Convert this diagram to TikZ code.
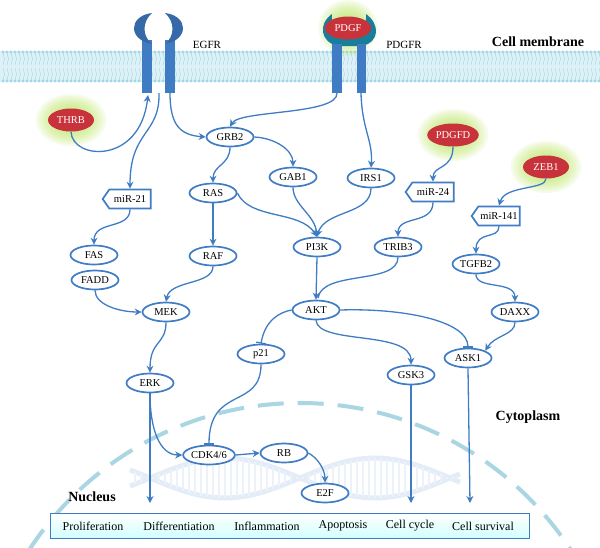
\documentclass[tikz,border=0pt]{standalone}
\usepackage{fontspec}
\setmainfont{Liberation Serif}
\usetikzlibrary{shapes.geometric,shapes.symbols,arrows.meta}
\definecolor{lb}{HTML}{3F7CC4}
\definecolor{mem}{HTML}{9FD8E6}
\definecolor{nuc}{HTML}{A9D6E2}
\definecolor{rd}{HTML}{C8323A}
\definecolor{gl}{HTML}{B6E35A}
\newcommand{\glowat}[3]{\foreach \k in {1,...,8}{\fill[gl,opacity=0.12] #1 ellipse ({#2*(1-0.07*\k)} and {#3*(1-0.07*\k)});}}
\begin{document}
\begin{tikzpicture}[x=1pt,y=-1pt,
 g/.style={ellipse,draw=lb,line width=1.7pt,fill=white,minimum width=47,minimum height=19,inner sep=0.5pt,font=\fontsize{10.5}{12}\selectfont},
 mir/.style={signal,signal to=west,signal pointer angle=110,draw=lb,line width=1.7pt,fill=white,minimum width=48,minimum height=19,inner sep=1.5pt,font=\fontsize{10.5}{12}\selectfont},
 red/.style={ellipse,fill=rd,text=white,minimum width=46,minimum height=23,inner sep=1pt,font=\fontsize{10.5}{12}\selectfont},
 e/.style={lb,line width=1.3pt,-{Stealth[length=7pt,width=7pt]}},
 inh/.style={lb,line width=1.3pt,-{Bar[width=10pt]}},
 lab/.style={font=\fontsize{14}{16}\selectfont\bfseries}]
\useasboundingbox (0,0) rectangle (600,547);
% membrane
\fill[mem!35] (0,51) rectangle (600,82);
\foreach \x in {3,7,...,599}{
 \draw[mem,line width=0.4pt] (\x,53)--(\x+1.5,59)--(\x,65) (\x,68)--(\x+1.5,74)--(\x,80);
 \fill[mem] (\x,52) circle (1.6) (\x,81) circle (1.6);}
% nucleus
\begin{scope}
\clip (0,380) rectangle (600,547);
\draw[nuc,line width=4pt,dash pattern=on 26pt off 14pt] (300,726) circle (323);
\end{scope}
% DNA faint
\foreach \p in {0,180}{
 \draw[lb!14,line width=5pt,domain=130:460,samples=60] plot (\x,{478+20*sin(1.2*\x+\p)});}
\foreach \x in {135,141,...,455}{\draw[lb!10,line width=1.5pt] (\x,{478+20*sin(1.2*\x)})--(\x,{478+20*sin(1.2*\x+180)});}
% receptors
\tikzset{rec/.style={fill=lb}}
\fill[rec] (142,40) rectangle (152,93);
\fill[rec] (165,40) rectangle (175,93);
\fill[lb!85!black] (152,13) .. controls (128,16) and (128,40) .. (152,44) .. controls (142,36) and (142,22) .. (152,13);
\fill[lb!85!black] (165,13) .. controls (189,16) and (189,40) .. (165,44) .. controls (175,36) and (175,22) .. (165,13);
\glowat{(348,28)}{32}{30}
\fill[teal!60!lb] (332,14) .. controls (318,24) and (320,42) .. (338,46) -- (362,46) .. controls (380,42) and (380,24) .. (366,14) .. controls (370,36) and (328,36) .. (332,14);
\fill[rec] (332,44) rectangle (342,93);
\fill[rec] (357,44) rectangle (366,93);
\coordinate (egL) at (148,95); \coordinate (egM) at (159,93); \coordinate (egR) at (170,93);
\coordinate (pdL) at (337,93); \coordinate (pdR) at (361,93);
% glows
\glowat{(71,120)}{38}{28}
\glowat{(453,135)}{38}{28}
\glowat{(546,167)}{38}{28}
\node[red] (PDGF) at (348,28) {PDGF};
\node[red] (THRB) at (71,120) {THRB};
\node[red] (PDGFD) at (453,135) {PDGFD};
\node[red] (ZEB1) at (546,167) {ZEB1};
\node[font=\fontsize{11}{13}\selectfont] at (207,45) {EGFR};
\node[font=\fontsize{11}{13}\selectfont] at (404,45) {PDGFR};
\node[lab] at (538,42) {Cell membrane};
\node[lab] at (528,417) {Cytoplasm};
\node[lab] at (92,497) {Nucleus};
% nodes
\node[g] (GRB2) at (230,137) {GRB2};
\node[g] (GAB1) at (293,177) {GAB1};
\node[g] (IRS1) at (371,178) {IRS1};
\node[g] (RAS) at (213,193) {RAS};
\node[mir] (m21) at (130,199) {miR-21};
\node[mir] (m24) at (433,192) {miR-24};
\node[mir] (m141) at (499,216) {miR-141};
\node[g] (FAS) at (94,255) {FAS};
\node[g] (FADD) at (95,280) {FADD};
\node[g] (RAF) at (213,256) {RAF};
\node[g] (PI3K) at (317,247) {PI3K};
\node[g] (TRIB3) at (398,247) {TRIB3};
\node[g] (TGFB2) at (476,264) {TGFB2};
\node[g] (MEK) at (166,312) {MEK};
\node[g] (AKT) at (316,310) {AKT};
\node[g] (DAXX) at (515,312) {DAXX};
\node[g] (p21) at (261,354) {p21};
\node[g] (ASK1) at (468,358) {ASK1};
\node[g] (GSK3) at (411,375) {GSK3};
\node[g] (ERK) at (150,383) {ERK};
\node[g] (CDK) at (209,455) {CDK4/6};
\node[g] (RB) at (284,453) {RB};
\node[g] (E2F) at (325,493) {E2F};
% bar
\node[draw=lb,line width=1pt,top color=white,bottom color=cyan!18,minimum width=479,minimum height=25,inner sep=0] (bar) at (290,526) {};
\foreach \t/\x in {Proliferation/93,Differentiation/179,Inflammation/267,Apoptosis/343,Cell cycle/410,Cell survival/483}
 \node[font=\fontsize{12}{14}\selectfont] at (\x,526) {\t};
\coordinate (b1) at (150,503); \coordinate (b2) at (411,503); \coordinate (b3) at (470,503);
% edges
\draw[e] (THRB.south) .. controls (72,160) and (140,165) .. (egL);
\draw[e] (egM) .. controls (160,135) and (130,130) .. (m21.north);
\draw[e] (egR) .. controls (170,125) and (180,135) .. (GRB2.west);
\draw[e] (pdL) .. controls (338,115) and (240,110) .. (GRB2.north);
\draw[e] (pdR) .. controls (362,130) and (373,140) .. (IRS1.north);
\draw[e] (GRB2.south) .. controls (230,165) and (213,165) .. (RAS.north);
\draw[e] (GRB2.east) .. controls (275,138) and (293,150) .. (GAB1.north);
\draw[e] (RAS.south) -- (RAF.north);
\draw[e] (RAS.east) .. controls (250,220) and (300,210) .. (PI3K.north);
\draw[e] (GAB1.south) .. controls (293,205) and (315,215) .. (PI3K.north);
\draw[e] (IRS1.south) .. controls (371,215) and (325,210) .. (PI3K.north);
\draw[e] (PI3K.south) -- (AKT.north);
\draw[lb,line width=1.3pt] (TRIB3.south) .. controls (398,285) and (322,270) .. (318,298);
\draw[e] (PDGFD.south) .. controls (453,170) and (433,165) .. (m24.north);
\draw[e] (m24.south) .. controls (433,225) and (398,215) .. (TRIB3.north);
\draw[e] (ZEB1.south) .. controls (546,190) and (505,185) .. (m141.north);
\draw[e] (m141.south) .. controls (499,240) and (476,230) .. (TGFB2.north);
\draw[e] (TGFB2.south) .. controls (476,290) and (515,280) .. (DAXX.north);
\draw[e] (DAXX.south) .. controls (515,335) and (495,335) .. (ASK1.north east);
\draw[e] (m21.south) .. controls (130,230) and (94,220) .. (FAS.north);
\draw[e] (FADD.south) .. controls (95,305) and (120,312) .. (MEK.west);
\draw[e] (RAF.south) .. controls (213,285) and (170,280) .. (MEK.north);
\draw[e] (MEK.south) .. controls (166,345) and (150,340) .. (ERK.north);
\draw[inh] (AKT.west) .. controls (280,312) and (265,320) .. (p21.north);
\draw[inh] (AKT.east) .. controls (400,308) and (468,320) .. (ASK1.north);
\draw[e] (AKT.south) .. controls (318,345) and (411,330) .. (GSK3.north);
\draw[inh] (p21.south) .. controls (261,410) and (209,385) .. (CDK.north);
\draw[e] (ERK.south) .. controls (150,430) and (160,455) .. (CDK.west);
\draw[e] (ERK.south) -- (b1);
\draw[e] (CDK.east) -- (RB.west);
\draw[e] (RB.east) .. controls (318,458) and (325,470) .. (E2F.north);
\draw[e] (GSK3.south) -- (b2);
\draw[e] (ASK1.south) -- (b3);
\end{tikzpicture}
\end{document}
